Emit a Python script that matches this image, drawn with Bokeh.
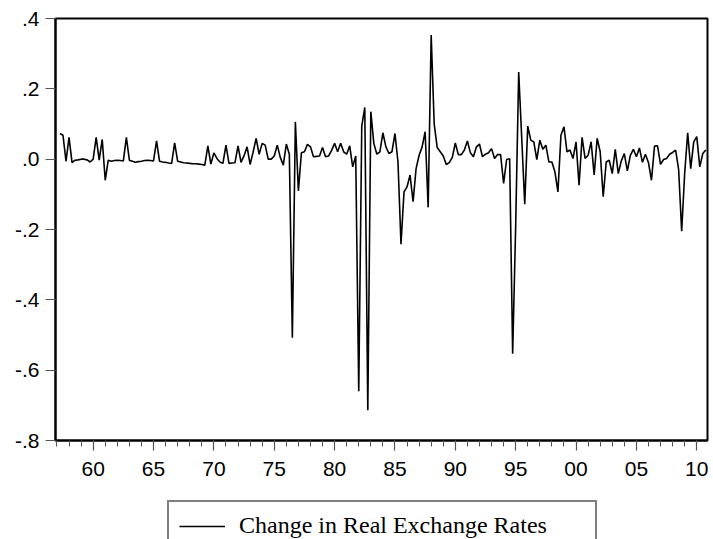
import pandas as pd
from bokeh.plotting import figure
from bokeh.layouts import column
from bokeh.models import FixedTicker, Legend, LegendItem, Range1d, ColumnDataSource
from bokeh.embed import file_html
from bokeh.resources import INLINE

# ---- data (quarterly change in real exchange rates) ----
first_quarter = "1957Q2"
rer_change = [
    0.073, 0.068, -0.006, 0.062, -0.010, -0.003, -0.002, 0.000, 0.000, -0.002,
    -0.008, 0.000, 0.062, -0.003, 0.056, -0.060, -0.003, -0.006, -0.004, -0.003,
    -0.004, -0.005, 0.062, -0.003, -0.006, -0.009, -0.007, -0.006, -0.004, -0.003,
    -0.004, -0.005, 0.052, -0.006, -0.008, -0.009, -0.011, -0.012, 0.046, -0.006,
    -0.008, -0.010, -0.011, -0.012, -0.013, -0.013, -0.014, -0.015, -0.017, 0.038,
    -0.014, 0.018, 0.002, -0.008, -0.012, 0.040, -0.012, -0.011, -0.010, 0.038,
    -0.009, 0.010, 0.035, -0.015, 0.020, 0.059, 0.014, 0.045, 0.040, 0.000,
    0.000, 0.009, 0.040, 0.005, -0.017, 0.043, 0.014, -0.508, 0.106, -0.090,
    0.018, 0.021, 0.042, 0.035, 0.007, 0.008, 0.009, 0.033, 0.007, 0.009,
    0.025, 0.045, 0.021, 0.045, 0.021, 0.014, 0.038, -0.022, 0.009, -0.660,
    0.094, 0.147, -0.714, 0.135, 0.045, 0.014, 0.021, 0.075, 0.035, 0.016,
    0.021, 0.073, -0.008, -0.242, -0.093, -0.079, -0.045, -0.121, -0.027, 0.011,
    0.035, 0.078, -0.137, 0.353, 0.100, 0.033, 0.021, 0.009, -0.015, -0.010,
    0.005, 0.046, 0.013, 0.013, 0.026, 0.052, 0.018, 0.007, 0.035, 0.043,
    0.007, 0.014, 0.018, 0.030, 0.002, 0.013, 0.013, -0.069, -0.001, 0.001,
    -0.553, -0.190, 0.248, 0.060, -0.128, 0.094, 0.054, 0.049, -0.001, 0.054,
    0.028, 0.040, -0.008, -0.008, -0.036, -0.093, 0.068, 0.092, 0.021, 0.026,
    0.002, 0.049, -0.074, 0.062, 0.002, 0.011, 0.049, -0.045, 0.059, 0.021,
    -0.107, -0.008, -0.003, -0.041, 0.028, -0.041, -0.005, 0.016, -0.033, 0.011,
    0.028, 0.007, 0.032, -0.009, 0.014, -0.010, -0.060, 0.037, 0.038, -0.015,
    -0.001, 0.002, 0.014, 0.019, 0.026, -0.030, -0.205, -0.040, 0.075, -0.027,
    0.049, 0.064, -0.022, 0.016, 0.026,
]
x_major_ticks = [1960, 1965, 1970, 1975, 1980, 1985, 1990, 1995, 2000, 2005, 2010]
x_tick_labels = ["60", "65", "70", "75", "80", "85", "90", "95", "00", "05", "10"]
x_minor_ticks = list(range(1957, 2011))
y_ticks = [-0.8, -0.6, -0.4, -0.2, 0.0, 0.2, 0.4]
y_tick_labels = ["-.8", "-.6", "-.4", "-.2", ".0", ".2", ".4"]
series_name = "Change in Real Exchange Rates"

quarters = pd.period_range(first_quarter, periods=len(rer_change), freq="Q")
xs = [q.year + (q.quarter - 1) / 4 for q in quarters]
src = ColumnDataSource(dict(x=xs, y=rer_change))

W = 712

# ---- main chart ----
p = figure(width=W, height=494, output_backend="svg", toolbar_location=None,
           x_range=Range1d(1956.88, 2010.89), y_range=Range1d(-0.8, 0.4),
           min_border_left=55, min_border_right=5, min_border_top=18,
           min_border_bottom=54)
p.background_fill_color = "white"
p.border_fill_color = "white"
p.outline_line_color = "black"
p.outline_line_width = 2
p.xgrid.visible = False
p.ygrid.visible = False

p.line("x", "y", source=src, line_color="black", line_width=1.6)

tick_font = "Liberation Sans"
p.xaxis.ticker = FixedTicker(ticks=x_major_ticks, minor_ticks=x_minor_ticks)
p.xaxis.major_label_overrides = dict(zip(x_major_ticks, x_tick_labels))
p.yaxis.ticker = FixedTicker(ticks=y_ticks, minor_ticks=[])
p.yaxis.major_label_overrides = dict(zip(y_ticks, y_tick_labels))
for ax in (p.xaxis[0], p.yaxis[0]):
    ax.axis_line_color = "black"
    ax.axis_line_width = 2
    ax.major_tick_line_color = "#555555"
    ax.minor_tick_line_color = "#555555"
    ax.major_tick_line_width = 1.2
    ax.minor_tick_line_width = 1
    ax.major_tick_in = 0
    ax.major_tick_out = 10
    ax.minor_tick_in = 0
    ax.minor_tick_out = 6
    ax.major_label_text_font = tick_font
    ax.major_label_text_font_size = "21px"
    ax.major_label_text_color = "black"
p.xaxis.major_label_standoff = 11
p.yaxis.major_label_standoff = 6

# ---- legend strip below the chart (same series, ranges keep it out of view) ----
lg = figure(width=W, height=45, output_backend="svg", toolbar_location=None,
            x_axis_type=None, y_axis_type=None, min_border=0,
            x_range=Range1d(0, 1), y_range=Range1d(0, 1))
lg.outline_line_color = None
lg.background_fill_color = "white"
lg.border_fill_color = "white"
lg.xgrid.visible = False
lg.ygrid.visible = False
sample = lg.line("x", "y", source=src, line_color="black", line_width=1.5)

legend = Legend(items=[LegendItem(label=series_name, renderers=[sample])],
                location=(112, -12), orientation="vertical")
legend.border_line_color = "black"
legend.border_line_width = 2
legend.background_fill_color = "white"
legend.background_fill_alpha = 1
legend.padding = 10
legend.margin = 0
legend.glyph_width = 46
legend.glyph_height = 26
legend.label_height = 26
legend.label_standoff = 14
legend.label_width = 346
legend.label_text_font = "Liberation Serif"
legend.label_text_font_size = "24px"
legend.label_text_color = "black"
lg.add_layout(legend)

open("out.html", "w").write(file_html(column(p, lg, spacing=0), INLINE))
